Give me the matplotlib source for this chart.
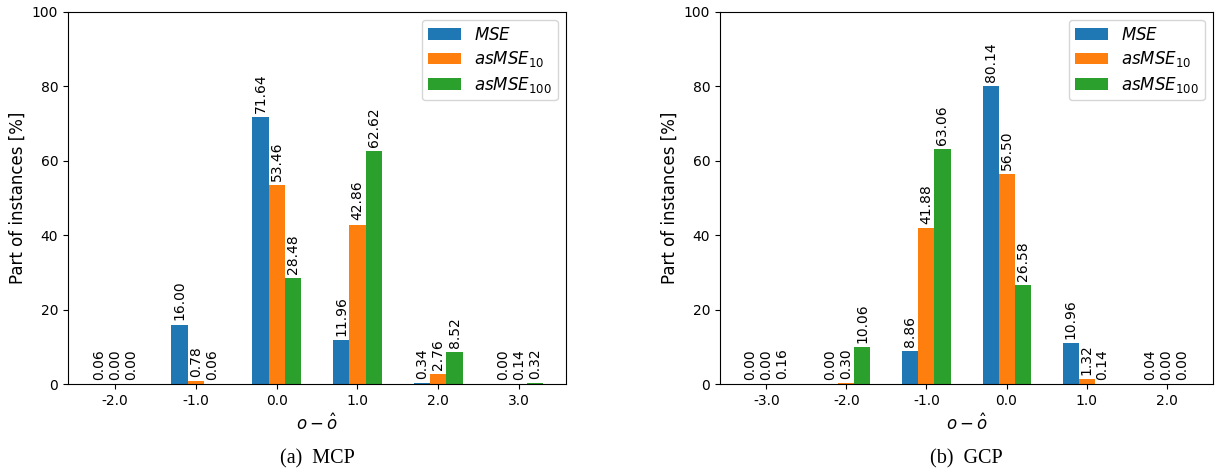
import numpy as np
import matplotlib
matplotlib.use('Agg')
import matplotlib.pyplot as plt

# (a) MCP
mcp_x = [-2.0, -1.0, 0.0, 1.0, 2.0, 3.0]
mcp_mse = [0.06, 16.00, 71.64, 11.96, 0.34, 0.00]
mcp_as10 = [0.00, 0.78, 53.46, 42.86, 2.76, 0.14]
mcp_as100 = [0.00, 0.06, 28.48, 62.62, 8.52, 0.32]

# (b) GCP
gcp_x = [-3.0, -2.0, -1.0, 0.0, 1.0, 2.0]
gcp_mse = [0.00, 0.00, 8.86, 80.14, 10.96, 0.04]
gcp_as10 = [0.00, 0.30, 41.88, 56.50, 1.32, 0.00]
gcp_as100 = [0.16, 10.06, 63.06, 26.58, 0.14, 0.00]

names = ['$MSE$', '$asMSE_{10}$', '$asMSE_{100}$']
captions = ['(a)  MCP', '(b)  GCP']

fig = plt.figure(figsize=(12.27, 4.72), dpi=100)
ax1 = fig.add_axes([0.0554, 0.186, 0.406, 0.789])
ax2 = fig.add_axes([0.5868, 0.186, 0.4018, 0.789])

w = 0.2
for ax, x, series, cap in [(ax1, mcp_x, [mcp_mse, mcp_as10, mcp_as100], captions[0]),
                           (ax2, gcp_x, [gcp_mse, gcp_as10, gcp_as100], captions[1])]:
    xs = np.array(x)
    for i, (vals, name) in enumerate(zip(series, names)):
        bars = ax.bar(xs + (i - 1) * w, vals, w, color='C%d' % i, label=name)
        ax.bar_label(bars, labels=['%.2f' % v for v in vals], rotation=90,
                     padding=3, fontsize=10)
    ax.set_ylim(0, 100)
    ax.set_xticks(xs)
    ax.set_xticklabels(['%.1f' % v for v in x], fontsize=10)
    ax.tick_params(axis='y', labelsize=10)
    ax.set_ylabel('Part of instances [%]', fontsize=12)
    ax.set_xlabel(r'$o - \hat{o}$', fontsize=12)
    ax.legend(loc='upper right', fontsize=12, labelspacing=0.32, borderpad=0.35)
    pos = ax.get_position()
    fig.text((pos.x0 + pos.x1) / 2, 0.019, cap, ha='center', va='baseline',
             family='Liberation Serif', fontsize=14.5)

fig.savefig('out.png', dpi=100)
